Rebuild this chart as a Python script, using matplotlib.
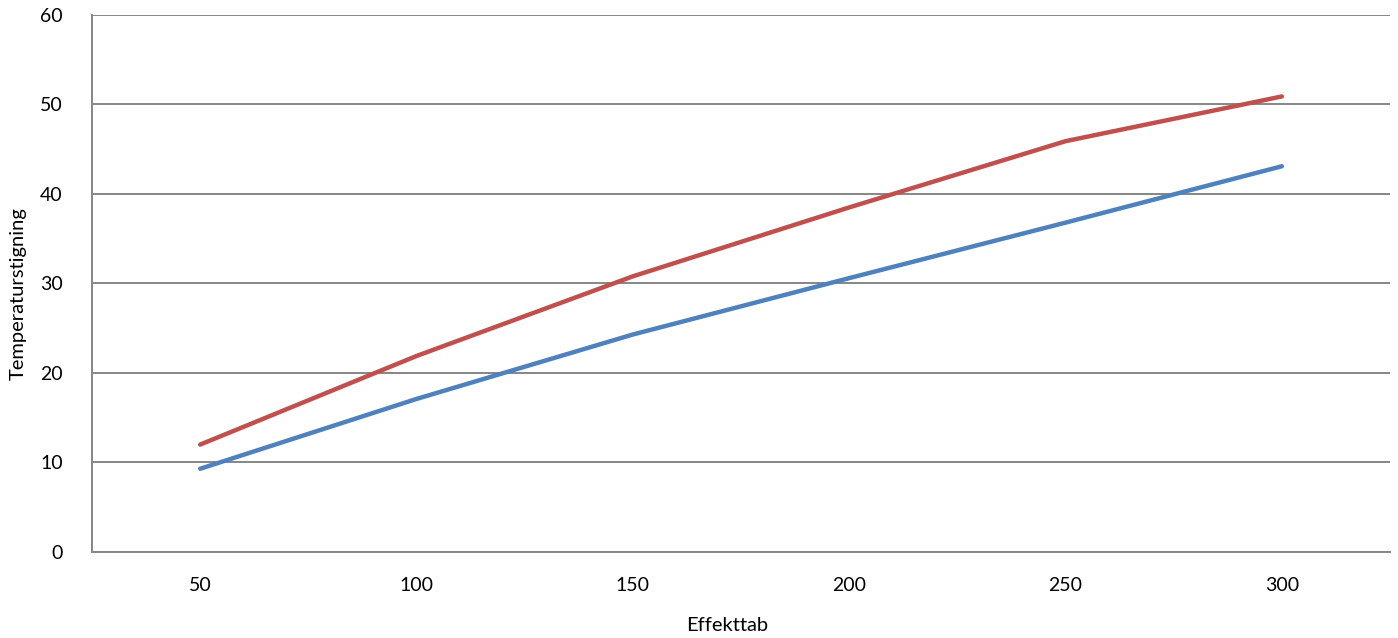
import matplotlib
matplotlib.use('Agg')
import matplotlib.pyplot as plt

# values
effekttab = [50, 100, 150, 200, 250, 300]
red_temp = [12.0, 21.9, 30.8, 38.5, 45.9, 50.9]
blue_temp = [9.3, 17.1, 24.3, 30.6, 36.8, 43.1]

plt.rcParams['font.family'] = ['Lato', 'DejaVu Sans']

fig = plt.figure(figsize=(13.98, 6.38), dpi=100)
ax = fig.add_axes([0.0658, 0.1348, 0.9285, 0.8417])

idx = list(range(len(effekttab)))
ax.plot(idx, red_temp, color='#C0504D', lw=3.2, solid_capstyle='round', zorder=3)
ax.plot(idx, blue_temp, color='#4F81BD', lw=3.2, solid_capstyle='round', zorder=3)

ax.set_xlim(-0.5, len(effekttab) - 0.5)
ax.set_ylim(0, 60)
ax.set_yticks(range(0, 61, 10))
ax.set_xticks(idx)
ax.set_xticklabels([str(v) for v in effekttab])

ax.grid(axis='y', color='#868686', lw=1.4)
ax.set_axisbelow(True)
for s in ['top', 'right']:
    ax.spines[s].set_visible(False)
for s in ['left', 'bottom']:
    ax.spines[s].set_color('#868686')
    ax.spines[s].set_linewidth(1.4)
ax.tick_params(axis='both', length=0, labelsize=14, colors='black')
ax.tick_params(axis='y', pad=21)
ax.tick_params(axis='x', pad=18)

# axis titles placed where the reference has them
fig.text(0.5205, 0.02, 'Effekttab', fontsize=14.5, ha='center', va='center')
fig.text(0.013, 0.54, 'Temperaturstigning', fontsize=14.5, rotation=90,
         ha='center', va='center')

fig.savefig('out.png', dpi=100)
